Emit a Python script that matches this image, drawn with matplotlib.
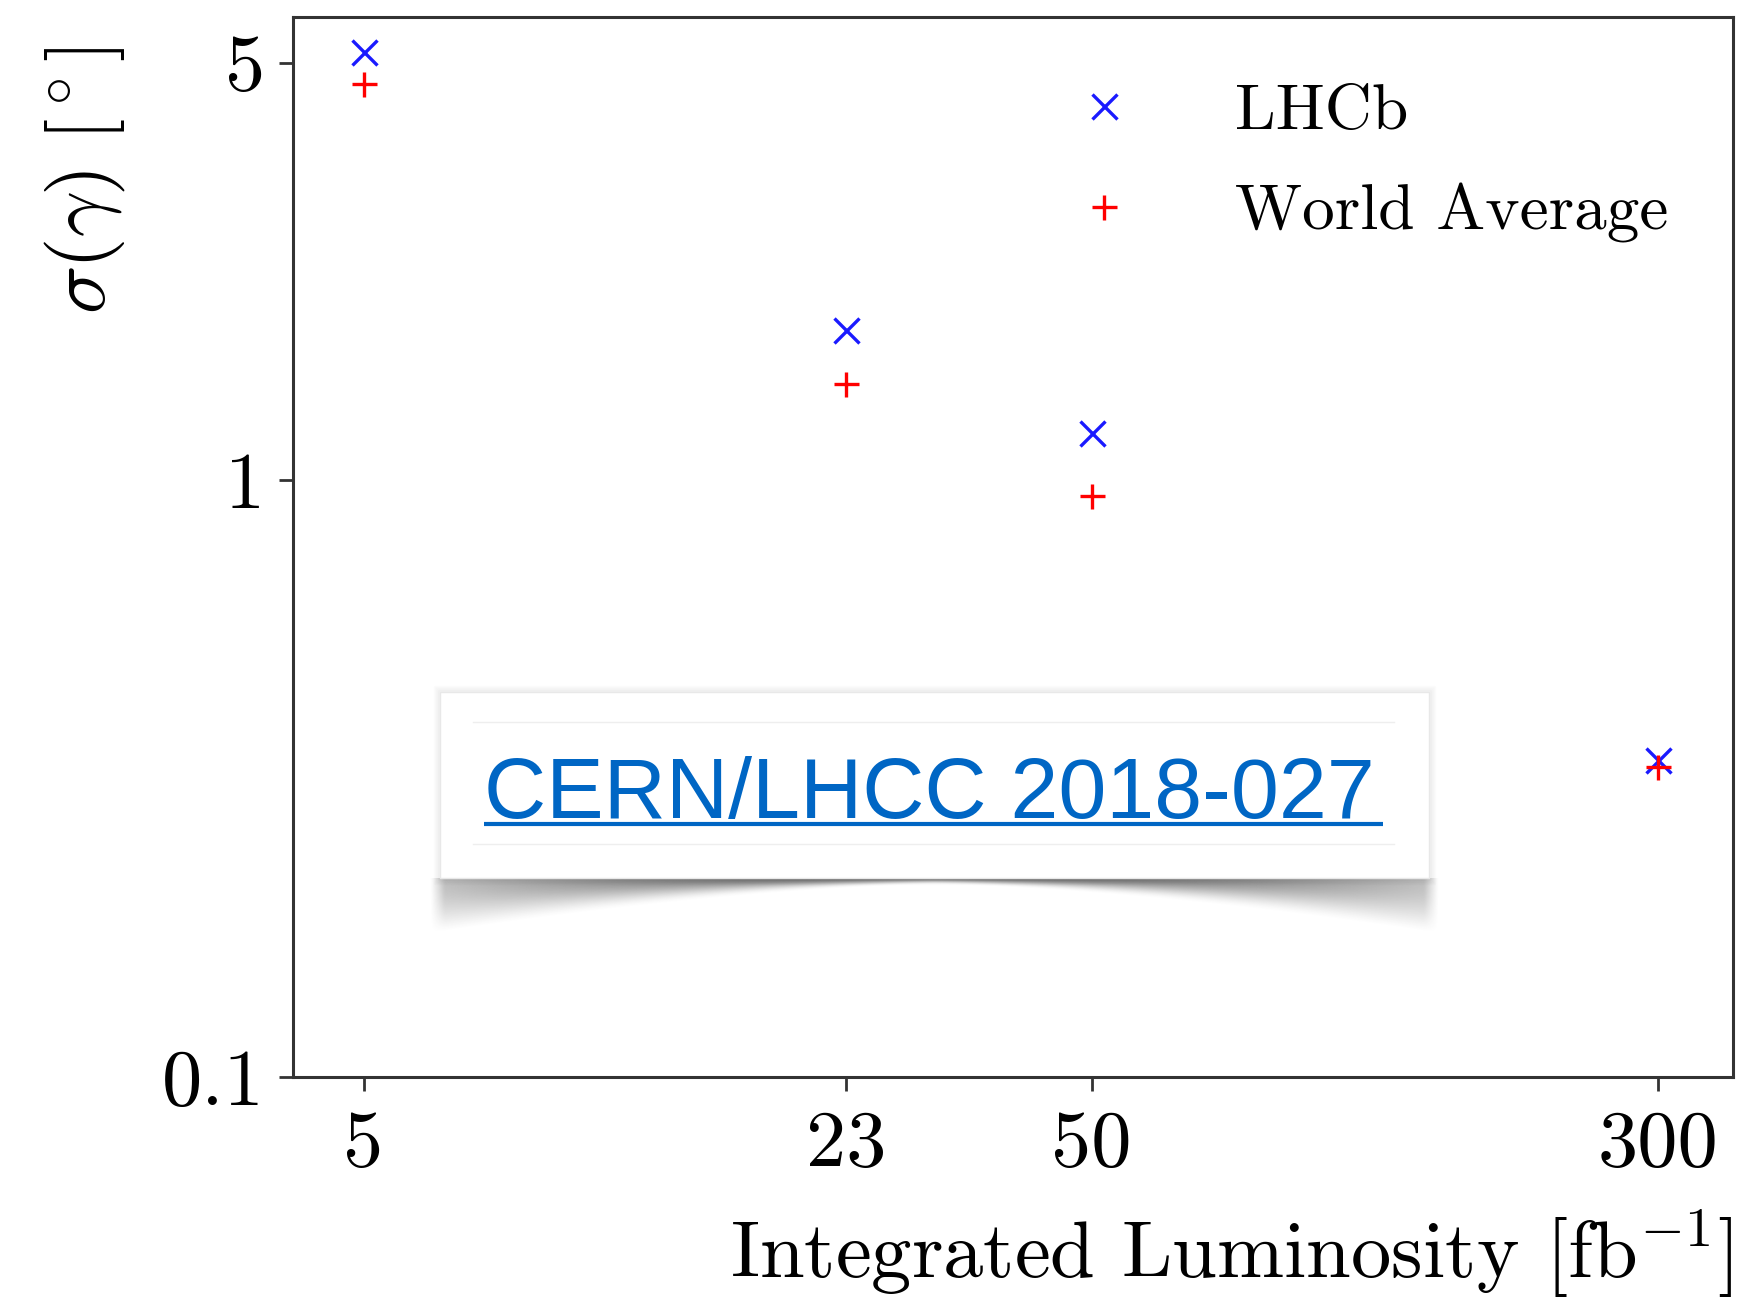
import numpy as np
import matplotlib
matplotlib.use('Agg')
import matplotlib.pyplot as plt
from matplotlib.ticker import NullLocator
from matplotlib.patches import Rectangle

# data
luminosity = [5, 23, 50, 300]
lhcb_sigma = [5.2, 1.78, 1.20, 0.34]
world_avg_sigma = [4.6, 1.45, 0.94, 0.33]
x_tick_labels = ['5', '23', '50', '300']
y_ticks = [0.1, 1, 5]
y_tick_labels = ['0.1', '1', '5']

plt.rcParams['font.family'] = 'cmr10'
plt.rcParams['mathtext.fontset'] = 'cm'
plt.rcParams['axes.formatter.use_mathtext'] = True

W, H = 1737, 1297
fig = plt.figure(figsize=(W / 100, H / 100), dpi=100)
ax = fig.add_axes([293 / W, 1 - 1077 / H, (1733 - 293) / W, (1077 - 17) / H])

ax.set_xscale('log')
ax.set_yscale('log')
ax.plot(luminosity, lhcb_sigma, ls='none', marker='x', color='#1a1aff', ms=18, mew=2.4, label='LHCb')
ax.plot(luminosity, world_avg_sigma, ls='none', marker='+', color='#ff0000', ms=18, mew=2.4,
        label='World Average')

ax.set_xlim(4.0, 380)
ax.set_ylim(0.1, 5.96)
ax.set_xticks(luminosity, x_tick_labels)
ax.set_yticks(y_ticks, y_tick_labels)
ax.xaxis.set_minor_locator(NullLocator())
ax.yaxis.set_minor_locator(NullLocator())
ax.tick_params(axis='both', which='major', direction='out', length=10, width=2,
               color='#333333', labelsize=58)
ax.tick_params(axis='x', pad=14)
ax.tick_params(axis='y', pad=10)
for sp in ax.spines.values():
    sp.set_linewidth(2.2)
    sp.set_color('#333333')

ax.set_xlabel(r'Integrated Luminosity [fb$^{-1}$]', fontsize=58, loc='right', labelpad=18)
ax.set_ylabel(r'$\sigma(\gamma)\ [^\circ]$', fontsize=58)
ax.yaxis.set_label_coords(-0.115, 0.846)

ax.legend(loc='upper left', bbox_to_anchor=(0.4816, 0.987), frameon=False, fontsize=47,
          handlelength=2.0, handletextpad=1.0, labelspacing=0.64, borderpad=0.3)

# overlay in pixel coordinates for the reference link box
ov = fig.add_axes([0, 0, 1, 1], zorder=10)
ov.set_xlim(0, W)
ov.set_ylim(H, 0)
ov.axis('off')

bx0, bx1, by0, by1 = 440, 1429, 692, 878

# curled shadow under the box, soft on every side
mid = (bx0 + bx1) / 2
half = (bx1 - bx0) / 2 + 6
sx0, sx1, sy1 = bx0 - 30, bx1 + 30, by1 + 75
gx, gy = np.meshgrid(np.linspace(sx0, sx1, 600), np.linspace(by1, sy1, 200))
u = np.clip(np.abs(gx - mid) / half, 0, 1.2)
depth = 7 + 48 * np.minimum(u, 1) ** 1.5
t = np.clip((gy - by1) / depth, 0, 1.5)
fade = np.clip(1 - t, 0, 1)
fade = fade * fade * (3 - 2 * fade)
p = 1.6 - 1.0 * np.minimum(u, 1)
peak = 0.72 - 0.42 * np.minimum(u, 1) ** 2
side = np.clip((half + 4 - np.abs(gx - mid)) / 14, 0, 1)
alpha = peak * fade ** p * side
rgba = np.zeros(gx.shape + (4,))
rgba[..., :3] = 0.2
rgba[..., 3] = np.clip(alpha, 0, 1)
ov.imshow(rgba, extent=(sx0, sx1, sy1, by1), origin='upper',
          interpolation='bilinear', zorder=1, aspect='auto')

# faint halo round the box
for k, a in zip(range(1, 7), np.linspace(0.05, 0.01, 6)):
    ov.add_patch(Rectangle((bx0 - k, by0 - k), bx1 - bx0 + 2 * k, by1 - by0 + 2 * k,
                           facecolor='none', edgecolor=(0, 0, 0, a), lw=1, zorder=1.5))
ov.add_patch(Rectangle((bx0, by0), bx1 - bx0, by1 - by0, facecolor='white',
                       edgecolor='#e8e8e8', lw=1.0, zorder=2))
ov.set_xlim(0, W)
ov.set_ylim(H, 0)
ov.plot([473, 1394], [722, 722], color='#eeeeee', lw=1, zorder=3)
ov.plot([473, 1394], [844, 844], color='#eeeeee', lw=1, zorder=3)
ov.text(484, 818, 'CERN/LHCC 2018-027', color='#0066c4', fontsize=62,
        family=['Liberation Sans Narrow', 'Liberation Sans'], ha='left', va='baseline', zorder=4)
ov.plot([484, 1383], [824, 824], color='#0066c4', lw=3, solid_capstyle='butt', zorder=4)

fig.savefig('out.png', dpi=100)
